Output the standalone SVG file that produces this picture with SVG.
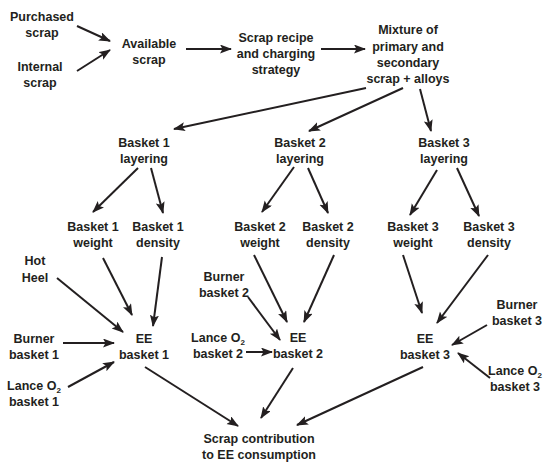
<svg xmlns="http://www.w3.org/2000/svg" width="550" height="468" viewBox="0 0 550 468">
<defs>
<style>
text{font-family:"Liberation Sans",Arial,sans-serif;font-weight:bold;font-size:12.5px;fill:#231f20;text-anchor:middle}
.c line{stroke:#231f20;stroke-width:2;marker-end:url(#ah)}
.s{font-size:8px}
</style>
<marker id="ah" markerUnits="userSpaceOnUse" markerWidth="12" markerHeight="10" refX="11" refY="4.5" orient="auto">
<path d="M0,0 L12,4.5 L0,9 L2.5,4.5 z" fill="#231f20"/>
</marker>
</defs>
<rect width="550" height="468" fill="#fff"/>
<g id="purchased"><text x="42" y="21">Purchased</text><text x="42" y="37">scrap</text></g>
<g id="internal"><text x="40" y="71">Internal</text><text x="40" y="87">scrap</text></g>
<g id="available"><text x="149" y="48">Available</text><text x="149" y="64">scrap</text></g>
<g id="recipe"><text x="276" y="42">Scrap recipe</text><text x="276" y="58">and charging</text><text x="276" y="74">strategy</text></g>
<g id="mixture"><text x="408" y="34">Mixture of</text><text x="408" y="51">primary and</text><text x="408" y="67">secondary</text><text x="408" y="83">scrap + alloys</text></g>
<g id="b1layer"><text x="144" y="147">Basket 1</text><text x="144" y="163">layering</text></g>
<g id="b2layer"><text x="300" y="147">Basket 2</text><text x="300" y="163">layering</text></g>
<g id="b3layer"><text x="444" y="147">Basket 3</text><text x="444" y="163">layering</text></g>
<g id="b1weight"><text x="93" y="231">Basket 1</text><text x="93" y="247">weight</text></g>
<g id="b1density"><text x="158" y="231">Basket 1</text><text x="158" y="247">density</text></g>
<g id="b2weight"><text x="260" y="231">Basket 2</text><text x="260" y="247">weight</text></g>
<g id="b2density"><text x="328" y="231">Basket 2</text><text x="328" y="247">density</text></g>
<g id="b3weight"><text x="413" y="231">Basket 3</text><text x="413" y="247">weight</text></g>
<g id="b3density"><text x="489" y="231">Basket 3</text><text x="489" y="247">density</text></g>
<g id="hotheel"><text x="35" y="265">Hot</text><text x="35" y="282">Heel</text></g>
<g id="burner1"><text x="34" y="343">Burner</text><text x="34" y="359">basket 1</text></g>
<g id="lance1"><text x="34" y="390">Lance O<tspan class="s" dy="3">2</tspan></text><text x="34" y="406">basket 1</text></g>
<g id="ee1"><text x="144" y="343">EE</text><text x="144" y="359">basket 1</text></g>
<g id="burner2"><text x="224" y="281">Burner</text><text x="224" y="297">basket 2</text></g>
<g id="lance2"><text x="218" y="342">Lance O<tspan class="s" dy="3">2</tspan></text><text x="218" y="358">basket 2</text></g>
<g id="ee2"><text x="298" y="342">EE</text><text x="298" y="358">basket 2</text></g>
<g id="ee3"><text x="425" y="343">EE</text><text x="425" y="359">basket 3</text></g>
<g id="burner3"><text x="517" y="309">Burner</text><text x="517" y="325">basket 3</text></g>
<g id="lance3"><text x="515" y="375">Lance O<tspan class="s" dy="3">2</tspan></text><text x="515" y="391">basket 3</text></g>
<g id="contribution"><text x="259" y="443">Scrap contribution</text><text x="259" y="459">to EE consumption</text></g>
<g id="connectors" class="c">
<line x1="77" y1="26" x2="110" y2="41"/>
<line x1="77" y1="71" x2="110" y2="50"/>
<line x1="186" y1="49" x2="231" y2="49"/>
<line x1="321" y1="49" x2="365" y2="49"/>
<line x1="366" y1="88" x2="174" y2="129"/>
<line x1="403" y1="88" x2="309" y2="131"/>
<line x1="420" y1="89" x2="431" y2="131"/>
<line x1="138" y1="168" x2="93" y2="212"/>
<line x1="151" y1="168" x2="163" y2="213"/>
<line x1="294" y1="167" x2="262" y2="212"/>
<line x1="308" y1="168" x2="328" y2="213"/>
<line x1="437" y1="170" x2="410" y2="215"/>
<line x1="457" y1="168" x2="479" y2="216"/>
<line x1="57" y1="278" x2="123" y2="332"/>
<line x1="103" y1="258" x2="132" y2="315"/>
<line x1="162" y1="257" x2="153" y2="326"/>
<line x1="63" y1="343" x2="114" y2="343"/>
<line x1="68" y1="387" x2="114" y2="362"/>
<line x1="145" y1="367" x2="238" y2="426"/>
<line x1="248" y1="297" x2="280" y2="340"/>
<line x1="246" y1="352" x2="272" y2="352"/>
<line x1="254" y1="255" x2="287" y2="322"/>
<line x1="334" y1="255" x2="304" y2="322"/>
<line x1="293" y1="368" x2="261" y2="418"/>
<line x1="403" y1="255" x2="422" y2="313"/>
<line x1="488" y1="255" x2="437" y2="323"/>
<line x1="487" y1="325" x2="452" y2="345"/>
<line x1="490" y1="378" x2="458" y2="353"/>
<line x1="423" y1="367" x2="297" y2="425"/>
</g>
</svg>
